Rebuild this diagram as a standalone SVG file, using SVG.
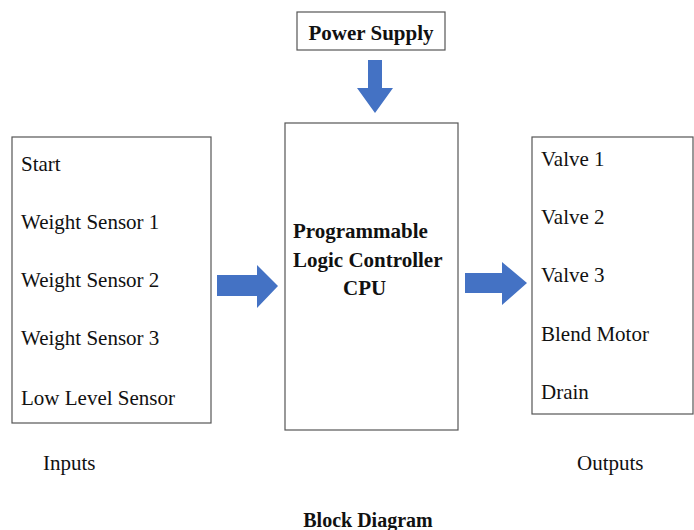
<svg xmlns="http://www.w3.org/2000/svg" width="694" height="530" viewBox="0 0 694 530">
<style>
.box{fill:#fff;stroke:#555;stroke-width:1.2}
.t{font-family:"Liberation Serif","Times New Roman",serif;font-size:21px;fill:#111}
.b{font-weight:bold}
.arr{fill:#4472C4}
</style>
<rect width="694" height="530" fill="#fff"/>
<g id="power">
<rect class="box" x="297" y="12" width="148" height="38"/>
<text class="t b" x="371" y="40" text-anchor="middle">Power Supply</text>
</g>
<g id="inputs">
<rect class="box" x="12" y="137" width="199" height="286"/>
<text class="t" x="21" y="171">Start</text>
<text class="t" x="21" y="229">Weight Sensor 1</text>
<text class="t" x="21" y="287">Weight Sensor 2</text>
<text class="t" x="21" y="345">Weight Sensor 3</text>
<text class="t" x="21" y="405">Low Level Sensor</text>
</g>
<g id="cpu">
<rect class="box" x="285" y="123" width="173" height="307"/>
<text class="t b" x="293" y="238">Programmable</text>
<text class="t b" x="293" y="267">Logic Controller</text>
<text class="t b" x="343" y="295">CPU</text>
</g>
<g id="outputs">
<rect class="box" x="532" y="137" width="161" height="277"/>
<text class="t" x="541" y="166">Valve 1</text>
<text class="t" x="541" y="224">Valve 2</text>
<text class="t" x="541" y="282">Valve 3</text>
<text class="t" x="541" y="341">Blend Motor</text>
<text class="t" x="541" y="399">Drain</text>
</g>
<g id="connectors">
<polygon class="arr" points="368,60 382,60 382,88 393,88 375,113 357,88 368,88"/>
<polygon class="arr" points="217,275 257,275 257,265 278,286 257,308 257,296 217,296"/>
<polygon class="arr" points="465,273 502,273 502,262 527,283 502,305 502,293 465,293"/>
</g>
<g id="labels">
<text class="t" x="43" y="470">Inputs</text>
<text class="t" x="577" y="470">Outputs</text>
<text class="t b" x="368" y="527" text-anchor="middle" style="font-size:20px">Block Diagram</text>
</g>
</svg>
